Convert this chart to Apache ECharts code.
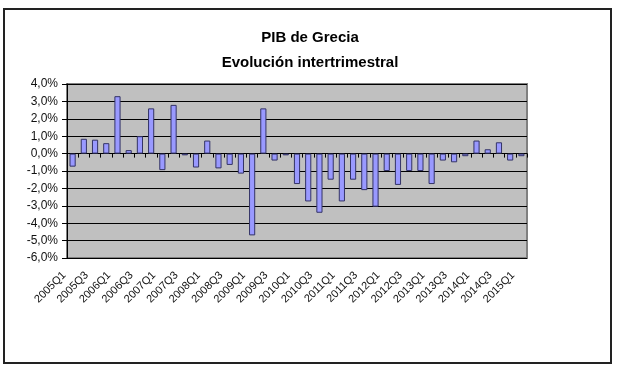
<!DOCTYPE html>
<html>
<head>
<meta charset="utf-8">
<script src="https://cdn.jsdelivr.net/npm/echarts@6/dist/echarts.min.js"></script>
<style>html,body{margin:0;padding:0;background:#fff;}#c{width:625px;height:377px;}</style>
</head>
<body>
<div id="c"></div>
<script>
var quarters = [
  '2005Q1','2005Q2','2005Q3','2005Q4',
  '2006Q1','2006Q2','2006Q3','2006Q4',
  '2007Q1','2007Q2','2007Q3','2007Q4',
  '2008Q1','2008Q2','2008Q3','2008Q4',
  '2009Q1','2009Q2','2009Q3','2009Q4',
  '2010Q1','2010Q2','2010Q3','2010Q4',
  '2011Q1','2011Q2','2011Q3','2011Q4',
  '2012Q1','2012Q2','2012Q3','2012Q4',
  '2013Q1','2013Q2','2013Q3','2013Q4',
  '2014Q1','2014Q2','2014Q3','2014Q4',
  '2015Q1'
];
var growth = [
  -0.75, 0.85, 0.8, 0.6,
  3.3, 0.2, 1.0, 2.6,
  -0.95, 2.8, -0.1, -0.8,
  0.75, -0.85, -0.65, -1.15,
  -4.7, 2.6, -0.4, -0.1,
  -1.75, -2.75, -3.4, -1.5,
  -2.75, -1.5, -2.1, -3.05,
  -1.0, -1.8, -1.0, -1.0,
  -1.75, -0.4, -0.5, -0.15,
  0.75, 0.25, 0.65, -0.4,
  -0.15
];
var yMin = -6, yMax = 4, yStep = 1;
var titleText = 'PIB de Grecia\nEvolución intertrimestral';

var chart = echarts.init(document.getElementById('c'), null, {renderer: 'canvas'});
chart.setOption({
  animation: false,
  backgroundColor: '#fff',
  title: {
    text: titleText,
    left: 305,
    top: 20,
    textAlign: 'center',
    textStyle: {fontFamily: 'Liberation Sans, Arial, sans-serif', fontSize: 15, fontWeight: 'bold', color: '#000', lineHeight: 25}
  },
  graphic: [{
    type: 'rect', silent: true, z: 100,
    shape: {x: 4, y: 9, width: 607, height: 354},
    style: {fill: 'none', stroke: '#222', lineWidth: 2}
  }],
  grid: {
    left: 67, right: 98, top: 84, bottom: 119,
    show: true, backgroundColor: '#c0c0c0', borderColor: '#808080', borderWidth: 2
  },
  xAxis: [{
    type: 'category', data: quarters, position: 'bottom',
    axisLine: {show: false, onZero: false},
    axisTick: {show: false},
    axisLabel: {interval: 1, rotate: 45, margin: 7, padding: [0, 12, 0, 0],
      fontFamily: 'Liberation Sans, Arial, sans-serif', fontSize: 11, color: '#111'}
  }, {
    type: 'category', data: quarters, position: 'bottom',
    axisLine: {show: true, onZero: true, lineStyle: {color: '#000', width: 1}},
    axisTick: {show: true, interval: 0, length: 4, lineStyle: {color: '#000'}},
    axisLabel: {show: false}
  }],
  yAxis: {
    type: 'value', min: yMin, max: yMax, interval: yStep,
    axisLine: {show: true, lineStyle: {color: '#000', width: 1}},
    axisTick: {show: true, length: 5, lineStyle: {color: '#000'}},
    splitLine: {show: true, lineStyle: {color: '#000', width: 1}},
    axisLabel: {
      margin: 9, fontFamily: 'Liberation Sans, Arial, sans-serif', fontSize: 12, color: '#111',
      formatter: function (v) { return v.toFixed(1).replace('.', ',') + '%'; }
    }
  },
  series: [{
    type: 'bar', data: growth, xAxisIndex: 0, barWidth: '55%',
    itemStyle: {color: '#9999ff', borderColor: '#333366', borderWidth: 1}
  }]
});
</script>
</body>
</html>
